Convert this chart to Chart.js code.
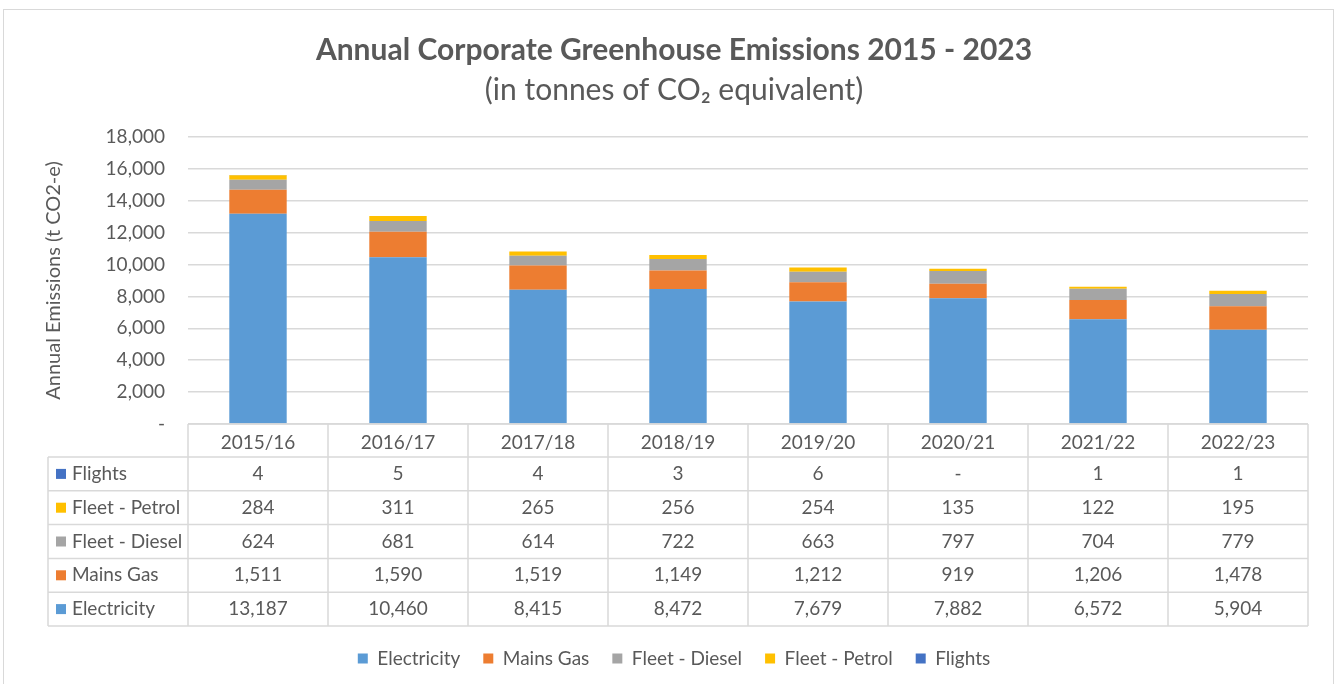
<!DOCTYPE html>
<html>
<head>
<meta charset="utf-8">
<title>Annual Corporate Greenhouse Emissions</title>
<script src="https://cdn.jsdelivr.net/npm/chart.js@4"></script>
<style>
  body { margin: 0; background: #fff; }
  canvas { display: block; }
</style>
</head>
<body>
<canvas id="emissionsChart" width="1340" height="684"></canvas>
<script>
// Emissions per financial year (t CO2-e)
const years = ['2015/16', '2016/17', '2017/18', '2018/19', '2019/20', '2020/21', '2021/22', '2022/23'];
const electricity = [13187, 10460, 8415, 8472, 7679, 7882, 6572, 5904];
const mainsGas = [1511, 1590, 1519, 1149, 1212, 919, 1206, 1478];
const fleetDiesel = [624, 681, 614, 722, 663, 797, 704, 779];
const fleetPetrol = [284, 311, 265, 256, 254, 135, 122, 195];
const flights = [4, 5, 4, 3, 6, 0, 1, 1];

const yMax = 18000;
const yStep = 2000;

const textColor = '#595959';
const lineColor = '#d9d9d9';
const fontFamily = 'Lato, "Open Sans", sans-serif';

Chart.defaults.font.family = fontFamily;
Chart.defaults.color = textColor;

function fmt(v) {
  return v === 0 ? '-' : v.toLocaleString('en-US');
}

// data table under the bars, rows listed top to bottom
const tableRows = [
  { label: 'Flights', color: '#4472C4', values: flights },
  { label: 'Fleet - Petrol', color: '#FFC000', values: fleetPetrol },
  { label: 'Fleet - Diesel', color: '#A5A5A5', values: fleetDiesel },
  { label: 'Mains Gas', color: '#ED7D31', values: mainsGas },
  { label: 'Electricity', color: '#5B9BD5', values: electricity }
];

const dataTable = {
  id: 'dataTable',
  afterDraw(chart) {
    const ctx = chart.ctx;
    const x = chart.scales.x;
    const area = chart.chartArea;
    const top = area.bottom;
    const headH = 33;
    const rowH = 33.8;
    const tableLeft = 48;
    const bottom = top + headH + rowH * tableRows.length;
    const step = (area.right - area.left) / years.length;

    ctx.save();
    // outer frame
    ctx.strokeStyle = lineColor;
    ctx.lineWidth = 1;
    ctx.strokeRect(3.5, 9.5, 1330, 700);

    ctx.lineWidth = 1.5;
    ctx.beginPath();
    // horizontal lines
    ctx.moveTo(area.left, top);
    ctx.lineTo(area.right, top);
    for (let r = 0; r <= tableRows.length; r++) {
      const y = top + headH + r * rowH;
      ctx.moveTo(tableLeft, y);
      ctx.lineTo(area.right, y);
    }
    // vertical lines
    for (let c = 0; c <= years.length; c++) {
      const xx = area.left + c * step;
      ctx.moveTo(xx, top);
      ctx.lineTo(xx, bottom);
    }
    ctx.moveTo(tableLeft, top + headH);
    ctx.lineTo(tableLeft, bottom);
    ctx.stroke();

    ctx.font = '19px ' + fontFamily;
    ctx.textBaseline = 'middle';
    tableRows.forEach((row, r) => {
      const cy = top + headH + r * rowH + rowH / 2;
      ctx.fillStyle = row.color;
      ctx.fillRect(tableLeft + 8, cy - 5, 10, 10);
      ctx.fillStyle = textColor;
      ctx.textAlign = 'left';
      ctx.fillText(row.label, tableLeft + 24, cy);
      ctx.textAlign = 'center';
      row.values.forEach((v, i) => {
        ctx.fillText(fmt(v), x.getPixelForValue(i), cy);
      });
    });
    ctx.restore();
  }
};

const ctx = document.getElementById('emissionsChart').getContext('2d');
const emissionsChart = new Chart(ctx, {
  type: 'bar',
  data: {
    labels: years,
    datasets: [
      { label: 'Electricity', data: electricity, backgroundColor: '#5B9BD5' },
      { label: 'Mains Gas', data: mainsGas, backgroundColor: '#ED7D31' },
      { label: 'Fleet - Diesel', data: fleetDiesel, backgroundColor: '#A5A5A5' },
      { label: 'Fleet - Petrol', data: fleetPetrol, backgroundColor: '#FFC000' },
      { label: 'Flights', data: flights, backgroundColor: '#4472C4' }
    ]
  },
  options: {
    responsive: false,
    animation: false,
    events: [],
    datasets: {
      bar: { barPercentage: 0.41, categoryPercentage: 1, borderWidth: 0 }
    },
    layout: { padding: { top: 0, left: 40, right: 32, bottom: 6 } },
    scales: {
      x: {
        stacked: true,
        grid: { display: false, drawTicks: false },
        border: { display: false },
        ticks: { padding: 7, font: { size: 19 }, color: textColor },
        afterFit(scale) { scale.height = 202; }
      },
      y: {
        stacked: true,
        min: 0,
        max: yMax,
        ticks: {
          stepSize: yStep,
          padding: 23,
          font: { size: 19 },
          color: textColor,
          callback: v => fmt(v)
        },
        grid: { color: lineColor, lineWidth: 1.5, drawTicks: false },
        border: { display: false },
        title: {
          display: true,
          text: 'Annual Emissions (t CO2-e)',
          font: { size: 20 },
          color: textColor,
          padding: { top: 2, bottom: 0 }
        },
        afterFit(scale) { scale.width = 148; }
      }
    },
    plugins: {
      title: {
        display: true,
        text: 'Annual Corporate Greenhouse Emissions 2015 - 2023',
        font: { size: 30, weight: 'bold' },
        color: textColor,
        padding: { top: 32, bottom: 4 }
      },
      subtitle: {
        display: true,
        text: '(in tonnes of CO\u2082 equivalent)',
        font: { size: 30 },
        color: textColor,
        padding: { top: 0, bottom: 29 }
      },
      legend: {
        position: 'bottom',
        labels: {
          boxWidth: 10,
          boxHeight: 10,
          padding: 23,
          font: { size: 19 },
          color: textColor
        }
      },
      tooltip: { enabled: false }
    }
  },
  plugins: [dataTable]
});
</script>
</body>
</html>
